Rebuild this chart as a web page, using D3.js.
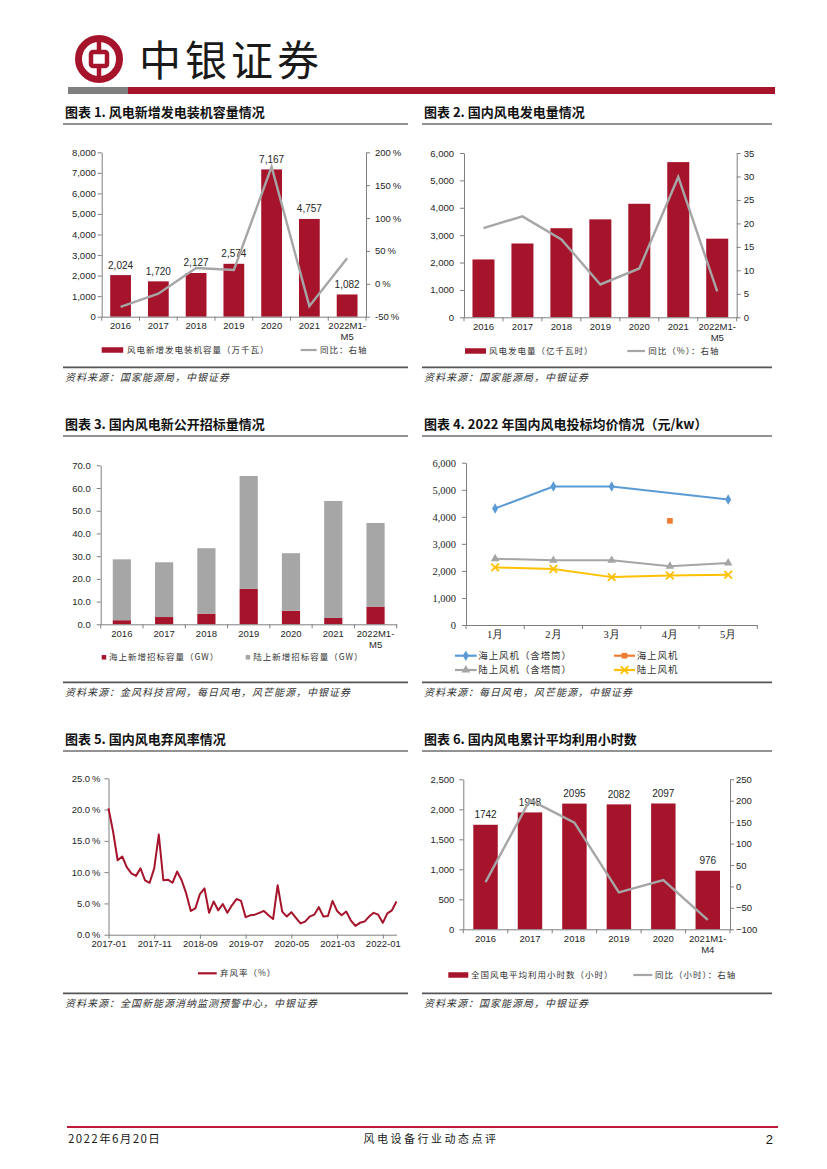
<!DOCTYPE html>
<html>
<head>
<meta charset="utf-8">
<script src="https://cdn.jsdelivr.net/npm/d3@7"></script>
<style>
body { margin: 0; background: #fff; }
</style>
</head>
<body>
<script>
// page size
const width = 827;
const height = 1169;

// colours and fonts
const red = "#a6142c";
const grey = "#a6a6a6";
const axisColor = "#7f7f7f";
const textColor = "#262626";
const numFont = "'Liberation Sans', Arial, sans-serif";
const serifFont = "'Liberation Serif', 'Times New Roman', serif";
const cjkFont = "'Noto Sans CJK SC', sans-serif";

// ---------- data ----------
// chart 1: new installed capacity (10k kW) and yoy (%)
const capYears = ["2016", "2017", "2018", "2019", "2020", "2021", "2022M1-M5"];
const capAdded = [2024, 1720, 2127, 2574, 7167, 4757, 1082];
const capYoy = [-35, -15, 24, 21, 178, -34, 39];

// chart 2: generation (100m kWh) and yoy (%)
const genYears = ["2016", "2017", "2018", "2019", "2020", "2021", "2022M1-M5"];
const genAmount = [2113, 2695, 3253, 3577, 4146, 5667, 2871];
const genYoy = [19.0, 21.5, 16.6, 7.0, 10.4, 29.9, 5.5];

// chart 3: public tender volume (GW)
const bidYears = ["2016", "2017", "2018", "2019", "2020", "2021", "2022M1-M5"];
const bidOffshore = [1.8, 3.2, 4.7, 15.6, 6.0, 2.8, 7.8];
const bidOnshore = [26.8, 24.1, 28.8, 49.7, 25.3, 51.5, 36.8];

// chart 4: average bid price 2022 (yuan/kW)
const priceMonths = ["1月", "2月", "3月", "4月", "5月"];
const priceOffTower = [4310, 5120, 5120, null, 4640];
const priceOff = [null, null, null, 3850, null];
const priceOnTower = [2450, 2390, 2390, 2170, 2290];
const priceOn = [2130, 2070, 1770, 1830, 1860];

// chart 5: monthly curtailment rate (%), 2017-01 .. 2022-04
const curtailMonths = d3.timeMonth.range(new Date(2017, 0, 1), new Date(2022, 4, 1)).map(d3.timeFormat("%Y-%m"));
const curtailRate = [
  20.2, 16.5, 11.9, 12.5, 10.8, 9.8, 9.4, 10.6, 8.7, 8.3, 10.6, 16.0,
  8.7, 8.8, 8.3, 10.1, 8.7, 6.6, 3.8, 4.2, 6.5, 7.4, 3.5, 5.3,
  3.9, 4.9, 3.5, 4.7, 5.7, 5.4, 2.8, 3.1, 3.2, 3.5, 3.8, 3.1,
  2.5, 7.9, 3.7, 2.9, 3.6, 2.7, 1.8, 2.1, 2.9, 3.2, 4.4, 2.9,
  3.0, 5.4, 3.8, 3.1, 3.7, 2.3, 1.4, 1.9, 2.1, 2.9, 3.5, 3.2,
  1.9, 3.4, 3.9, 5.3
];
const curtailTicks = ["2017-01", "2017-11", "2018-09", "2019-07", "2020-05", "2021-03", "2022-01"];

// chart 6: average utilisation hours and yoy (hours)
const hourYears = ["2016", "2017", "2018", "2019", "2020", "2021M1-M4"];
const hours = [1742, 1948, 2095, 2082, 2097, 976];
const hourYoy = [10, 202, 149, -14, 15, -78];

// create SVG
const svg = d3.select("body")
    .append("svg")
    .attr("width", width)
    .attr("height", height)
    .style("display", "block");

// ---------- header ----------
const logo = svg.append("g").attr("fill", "none").attr("stroke", red);
logo.append("circle").attr("cx", 99).attr("cy", 59).attr("r", 20.5).attr("stroke-width", 7);
logo.append("rect").attr("x", 91).attr("y", 52).attr("width", 16).attr("height", 14)
    .attr("rx", 2).attr("stroke-width", 4.5);
logo.append("line").attr("x1", 99).attr("x2", 99).attr("y1", 37).attr("y2", 50).attr("stroke-width", 4.5);
logo.append("line").attr("x1", 99).attr("x2", 99).attr("y1", 68).attr("y2", 81).attr("stroke-width", 4.5);

svg.append("text")
    .attr("x", 139).attr("y", 76)
    .attr("font-family", cjkFont).attr("font-size", 42).attr("letter-spacing", 4)
    .attr("fill", "#1a1a1a")
    .text("中银证券");

svg.append("rect").attr("x", 68).attr("y", 87).attr("width", 60).attr("height", 7).attr("fill", "#7f7f7f");
svg.append("rect").attr("x", 128).attr("y", 87).attr("width", 647).attr("height", 7).attr("fill", red);

// ---------- footer ----------
svg.append("line").attr("x1", 67).attr("x2", 778).attr("y1", 1127).attr("y2", 1127)
    .attr("stroke", "#c01a3a").attr("stroke-width", 2);
svg.append("text").attr("x", 68).attr("y", 1143)
    .attr("font-family", cjkFont).attr("font-size", 11.5).attr("letter-spacing", 1.4)
    .attr("fill", "#1a1a1a").text("2022年6月20日");
svg.append("text").attr("x", 431).attr("y", 1143).attr("text-anchor", "middle")
    .attr("font-family", cjkFont).attr("font-size", 11).attr("letter-spacing", 2.5)
    .attr("fill", "#1a1a1a").text("风电设备行业动态点评");
svg.append("text").attr("x", 773).attr("y", 1144).attr("text-anchor", "end")
    .attr("font-family", numFont).attr("font-size", 13)
    .attr("fill", "#1a1a1a").text("2");

// ---------- helpers ----------
function panel(x0, x1, titleY, titleText, sepY, sourceText) {
    svg.append("text").attr("x", x0 + 2).attr("y", titleY)
        .attr("font-family", cjkFont).attr("font-size", 13).attr("font-weight", "bold")
        .attr("fill", "#111").text(titleText);
    svg.append("line").attr("x1", x0).attr("x2", x1).attr("y1", titleY + 7).attr("y2", titleY + 7)
        .attr("stroke", "#6e6e6e").attr("stroke-width", 1.3);
    svg.append("line").attr("x1", x0).attr("x2", x1).attr("y1", sepY).attr("y2", sepY)
        .attr("stroke", "#555").attr("stroke-width", 1.8);
    svg.append("text").attr("x", x0 + 2).attr("y", sepY + 14)
        .attr("font-family", cjkFont).attr("font-size", 10).attr("font-style", "italic")
        .attr("letter-spacing", 1).attr("fill", "#333").text(sourceText);
}

function styleAxis(a, font, size) {
    a.attr("font-family", font).attr("font-size", size);
    a.select(".domain").attr("stroke", axisColor);
    a.selectAll(".tick line").attr("stroke", axisColor);
    a.selectAll(".tick text").attr("fill", textColor);
}

function leftAxis(y, x0, values, fmt, pad, font, size) {
    const a = svg.append("g").attr("transform", `translate(${x0},0)`)
        .call(d3.axisLeft(y).tickValues(values).tickFormat(fmt)
            .tickSize(4).tickSizeOuter(0).tickPadding(pad));
    styleAxis(a, font || numFont, size || 9.5);
    return a;
}

function rightAxis(y, x0, values, fmt, pad) {
    const a = svg.append("g").attr("transform", `translate(${x0},0)`)
        .call(d3.axisRight(y).tickValues(values).tickFormat(fmt)
            .tickSize(4).tickSizeOuter(0).tickPadding(pad));
    styleAxis(a, numFont, 9.5);
    return a;
}

// category axis with ticks on the category borders
function categoryAxis(x, y0, font, size) {
    const a = svg.append("g").attr("transform", `translate(0,${y0})`)
        .call(d3.axisBottom(x).tickSize(0).tickSizeOuter(0).tickPadding(6));
    styleAxis(a, font || numFont, size || 9.5);
    // "2022M1-M5" is broken after the dash
    a.selectAll(".tick text").each(function(d) {
        const i = d.indexOf("-");
        if (i > 0) {
            const t = d3.select(this).text(null);
            t.append("tspan").attr("x", 0).text(d.slice(0, i + 1));
            t.append("tspan").attr("x", 0).attr("dy", "1.15em").text(d.slice(i + 1));
        }
    });
    const r0 = x.range()[0];
    a.selectAll("line.border")
        .data(d3.range(x.domain().length + 1))
        .join("line")
        .attr("class", "border")
        .attr("x1", i => r0 + i * x.step())
        .attr("x2", i => r0 + i * x.step())
        .attr("y1", 0).attr("y2", 4)
        .attr("stroke", axisColor);
    return a;
}

function legendText(x, y, label, size, spacing) {
    svg.append("text").attr("x", x).attr("y", y).attr("dy", "0.36em")
        .attr("font-family", cjkFont).attr("font-size", size || 8.5)
        .attr("letter-spacing", spacing === undefined ? 1 : spacing)
        .attr("fill", "#333").text(label);
}

function legendBox(x, y, w, h, color, label, tx) {
    svg.append("rect").attr("x", x).attr("y", y - h / 2).attr("width", w).attr("height", h).attr("fill", color);
    legendText(tx, y, label);
}

function legendLine(x1, x2, y, color, label, tx, symbol, size, spacing) {
    svg.append("line").attr("x1", x1).attr("x2", x2).attr("y1", y).attr("y2", y)
        .attr("stroke", color).attr("stroke-width", 2.2);
    if (symbol) drawSymbol(svg, symbol, color, (x1 + x2) / 2, y);
    legendText(tx, y, label, size, spacing);
}

function drawSymbol(g, type, color, cx, cy) {
    const stroked = type === d3.symbolX;
    g.append("path")
        .attr("d", d3.symbol().type(type).size(stroked ? 40 : 32)())
        .attr("transform", `translate(${cx},${cy})`)
        .attr("fill", stroked ? "none" : color)
        .attr("stroke", stroked ? color : "none")
        .attr("stroke-width", 1.8);
}

// bars on the left axis, a grey yoy line on the right axis
function comboChart(o) {
    const x = d3.scaleBand().domain(o.cats).range(o.xr)
        .paddingInner(o.pad).paddingOuter(o.pad / 2);
    const yL = d3.scaleLinear().domain(o.left).range(o.yr);
    const yR = d3.scaleLinear().domain(o.right).range(o.yr);

    svg.append("g").selectAll("rect")
        .data(o.bars)
        .join("rect")
        .attr("x", (d, i) => x(o.cats[i]))
        .attr("y", d => yL(d))
        .attr("width", x.bandwidth())
        .attr("height", d => yL(0) - yL(d))
        .attr("fill", red);

    leftAxis(yL, o.xr[0], d3.range(o.left[0], o.left[1] + 1, o.leftStep), o.leftFmt, o.leftPad);
    rightAxis(yR, o.xr[1], d3.range(o.right[0], o.right[1] + 1, o.rightStep), o.rightFmt, o.rightPad);
    categoryAxis(x, o.yr[0]);

    if (o.labelFmt) {
        svg.append("g").selectAll("text")
            .data(o.bars)
            .join("text")
            .attr("x", (d, i) => x(o.cats[i]) + x.bandwidth() / 2)
            .attr("y", d => yL(d) - 6.5)
            .attr("text-anchor", "middle")
            .attr("font-family", numFont).attr("font-size", 10)
            .attr("fill", textColor)
            .text(o.labelFmt);
    }

    const line = d3.line()
        .x((d, i) => x(o.cats[i]) + x.bandwidth() / 2)
        .y(d => yR(d));
    svg.append("path")
        .attr("d", line(o.line))
        .attr("fill", "none")
        .attr("stroke", grey)
        .attr("stroke-width", 2.4);
}

// ---------- chart 1 ----------
panel(63, 408, 117, "图表 1. 风电新增发电装机容量情况", 367.3, "资料来源：国家能源局，中银证券");
comboChart({
    cats: capYears, bars: capAdded, line: capYoy,
    xr: [101.7, 366], yr: [316.7, 152.3], pad: 0.45,
    left: [0, 8000], leftStep: 1000, leftFmt: d3.format(","), leftPad: 2,
    right: [-50, 200], rightStep: 50, rightFmt: d => d + "\u2009%", rightPad: 5,
    labelFmt: d3.format(",")
});
legendBox(101.7, 350, 21.5, 5.5, red, "风电新增发电装机容量（万千瓦）", 127);
legendLine(300.7, 316.7, 350, grey, "同比：右轴", 320);

// ---------- chart 2 ----------
panel(422, 772, 117, "图表 2. 国内风电发电量情况", 367.3, "资料来源：国家能源局，中银证券");
comboChart({
    cats: genYears, bars: genAmount, line: genYoy,
    xr: [464, 736.7], yr: [317.3, 153], pad: 0.435,
    left: [0, 6000], leftStep: 1000, leftFmt: d3.format(","), leftPad: 6,
    right: [0, 35], rightStep: 5, rightFmt: d3.format("d"), rightPad: 3,
    labelFmt: null
});
legendBox(465, 351, 21, 5.5, red, "风电发电量（亿千瓦时）", 489);
legendLine(627.3, 645, 351, grey, "同比（%）：右轴", 648.3);

// ---------- chart 3 ----------
panel(63, 408, 429, "图表 3. 国内风电新公开招标量情况", 682.3, "资料来源：金风科技官网，每日风电，风芒能源，中银证券");
{
    const table = bidYears.map((yr, i) => ({year: yr, off: bidOffshore[i], on: bidOnshore[i]}));
    const stack = d3.stack().keys(["off", "on"])(table);
    const colors = {off: red, on: grey};

    const x = d3.scaleBand().domain(bidYears).range([100.7, 396.7])
        .paddingInner(0.57).paddingOuter(0.285);
    const y = d3.scaleLinear().domain([0, 70]).range([624.3, 465.3]);

    svg.append("g").selectAll("g")
        .data(stack)
        .join("g")
        .attr("fill", s => colors[s.key])
        .selectAll("rect")
        .data(s => s)
        .join("rect")
        .attr("x", d => x(d.data.year))
        .attr("y", d => y(d[1]))
        .attr("width", x.bandwidth())
        .attr("height", d => y(d[0]) - y(d[1]));

    leftAxis(y, 100.7, d3.range(0, 71, 10), d3.format(".1f"), 6);
    categoryAxis(x, 624.3);

    legendBox(101.7, 657.3, 4.5, 4.5, red, "海上新增招标容量（GW）", 109);
    legendBox(245.7, 657.3, 4.5, 4.5, grey, "陆上新增招标容量（GW）", 253.3);
}

// ---------- chart 4 ----------
panel(422, 772, 429, "图表 4. 2022 年国内风电投标均价情况（元/kw）", 682.3, "资料来源：每日风电，风芒能源，中银证券");
{
    const x = d3.scaleBand().domain(priceMonths).range([466, 757.3]).padding(0);
    const y = d3.scaleLinear().domain([0, 6000]).range([625, 462.7]);
    const cx = m => x(m) + x.bandwidth() / 2;

    leftAxis(y, 466, d3.range(0, 6001, 1000), d3.format(","), 6, serifFont, 10.5);
    categoryAxis(x, 625, serifFont, 10.5);

    const series = [
        {values: priceOffTower, color: "#5b9bd5", symbol: d3.symbolDiamond},
        {values: priceOff, color: "#ed7d31", symbol: d3.symbolSquare},
        {values: priceOnTower, color: "#a5a5a5", symbol: d3.symbolTriangle},
        {values: priceOn, color: "#ffc000", symbol: d3.symbolX}
    ];

    series.forEach(s => {
        // missing months are bridged, as in the source chart
        const pts = s.values.map((v, i) => ({m: priceMonths[i], v})).filter(p => p.v !== null);
        const g = svg.append("g");
        if (pts.length > 1) {
            g.append("path")
                .attr("d", d3.line().x(p => cx(p.m)).y(p => y(p.v))(pts))
                .attr("fill", "none")
                .attr("stroke", s.color)
                .attr("stroke-width", 2);
        }
        pts.forEach(p => drawSymbol(g, s.symbol, s.color, cx(p.m), y(p.v)));
    });

    legendLine(455, 476.7, 655.7, "#5b9bd5", "海上风机（含塔筒）", 478.3, d3.symbolDiamond, 9.5, 0.9);
    legendLine(614, 635, 655.7, "#ed7d31", "海上风机", 636.7, d3.symbolSquare, 9.5, 0.9);
    legendLine(455, 476.7, 670, "#a5a5a5", "陆上风机（含塔筒）", 478.3, d3.symbolTriangle, 9.5, 0.9);
    legendLine(614, 635, 670, "#ffc000", "陆上风机", 636.7, d3.symbolX, 9.5, 0.9);
}

// ---------- chart 5 ----------
panel(63, 408, 744, "图表 5. 国内风电弃风率情况", 993.3, "资料来源：全国新能源消纳监测预警中心，中银证券");
{
    const x = d3.scalePoint().domain(curtailMonths).range([108.5, 396.5]);
    const y = d3.scaleLinear().domain([0, 25]).range([934.7, 778.3]);

    leftAxis(y, 108.5, d3.range(0, 26, 5), d => d.toFixed(1) + "\u2009%", 4);
    const a = svg.append("g").attr("transform", "translate(0,934.7)")
        .call(d3.axisBottom(x).tickValues(curtailTicks).tickSize(4).tickSizeOuter(0).tickPadding(2));
    styleAxis(a, numFont, 9.5);

    svg.append("path")
        .attr("d", d3.line().x((d, i) => x(curtailMonths[i])).y(d => y(d))(curtailRate))
        .attr("fill", "none")
        .attr("stroke", red)
        .attr("stroke-width", 2)
        .attr("stroke-linejoin", "round");

    legendLine(198, 216.7, 973.3, red, "弃风率（%）", 220);
}

// ---------- chart 6 ----------
panel(422, 772, 744, "图表 6. 国内风电累计平均利用小时数", 993.3, "资料来源：国家能源局，中银证券");
comboChart({
    cats: hourYears, bars: hours, line: hourYoy,
    xr: [463.3, 730], yr: [929.3, 779.3], pad: 0.45,
    left: [0, 2500], leftStep: 500, leftFmt: d3.format(","), leftPad: 5,
    right: [-100, 250], rightStep: 50, rightFmt: d3.format("d"), rightPad: 2,
    labelFmt: d3.format("d")
});
legendBox(448.3, 975, 20, 5.5, red, "全国风电平均利用小时数（小时）", 471);
legendLine(633.3, 652.3, 975, grey, "同比（小时）：右轴", 655);
</script>
</body>
</html>
